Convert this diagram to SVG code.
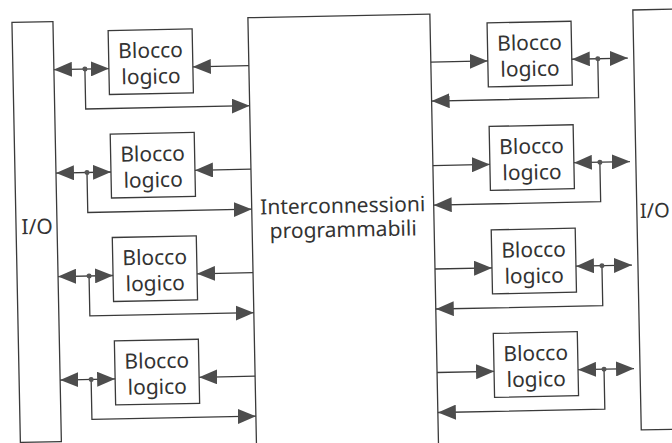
<svg xmlns="http://www.w3.org/2000/svg" width="672" height="443" viewBox="0 0 672 443">
<defs>
<style>
.box{fill:#fff;stroke:#3a3a3a;stroke-width:1.3}
.ln{fill:none;stroke:#3a3a3a;stroke-width:1.3}
.lbl{font-family:"Noto Sans","Open Sans","Liberation Sans",sans-serif;font-size:21px;fill:#333;text-anchor:middle}
.dot{fill:#555}
</style>
<marker id="ah" markerUnits="userSpaceOnUse" viewBox="0 0 18 15" markerWidth="18" markerHeight="15" refX="18" refY="7.5" orient="auto-start-reverse">
<path d="M0,0 L18,7.5 L0,15 z" fill="#4d4d4d"/>
</marker>
</defs>
<rect width="672" height="443" fill="#fff"/>
<g transform="rotate(-1.15 336 221)">
<g id="io-left"><rect class="box" x="16" y="16" width="41" height="420"/><text class="lbl" x="37" y="228">I/O</text></g>
<g id="interconnessioni"><rect class="box" x="252" y="16" width="182" height="450"/><text class="lbl" x="343" y="213">Interconnessioni</text><text class="lbl" x="343" y="237">programmabili</text></g>
<g id="io-right"><rect class="box" x="637" y="16" width="60" height="420"/><text class="lbl" x="640" y="224" style="text-anchor:start;font-size:20px">I/O</text></g>
<g id="bl1"><rect class="box" x="112" y="26" width="84" height="64"/><text class="lbl" x="154" y="54">Blocco</text><text class="lbl" x="154" y="80">logico</text></g>
<g id="bl2"><rect class="box" x="112" y="129.5" width="84" height="64"/><text class="lbl" x="154" y="157.5">Blocco</text><text class="lbl" x="154" y="183.5">logico</text></g>
<g id="bl3"><rect class="box" x="112" y="233" width="84" height="64"/><text class="lbl" x="154" y="261">Blocco</text><text class="lbl" x="154" y="287">logico</text></g>
<g id="bl4"><rect class="box" x="112" y="336.5" width="84" height="64"/><text class="lbl" x="154" y="364.5">Blocco</text><text class="lbl" x="154" y="390.5">logico</text></g>
<g id="br1"><rect class="box" x="491" y="26" width="84" height="64"/><text class="lbl" x="533" y="54">Blocco</text><text class="lbl" x="533" y="80">logico</text></g>
<g id="br2"><rect class="box" x="491" y="129.5" width="84" height="64"/><text class="lbl" x="533" y="157.5">Blocco</text><text class="lbl" x="533" y="183.5">logico</text></g>
<g id="br3"><rect class="box" x="491" y="233" width="84" height="64"/><text class="lbl" x="533" y="261">Blocco</text><text class="lbl" x="533" y="287">logico</text></g>
<g id="br4"><rect class="box" x="491" y="336.5" width="84" height="64"/><text class="lbl" x="533" y="364.5">Blocco</text><text class="lbl" x="533" y="390.5">logico</text></g>
<g id="connectors">
<path class="ln" d="M57,64 H112" marker-start="url(#ah)" marker-end="url(#ah)"/>
<path class="ln" d="M88,64 V104 H252" marker-end="url(#ah)"/>
<path class="ln" d="M252,64 H196" marker-end="url(#ah)"/>
<circle class="dot" cx="88" cy="64" r="2.5"/>
<path class="ln" d="M57,167.5 H112" marker-start="url(#ah)" marker-end="url(#ah)"/>
<path class="ln" d="M88,167.5 V207.5 H252" marker-end="url(#ah)"/>
<path class="ln" d="M252,167.5 H196" marker-end="url(#ah)"/>
<circle class="dot" cx="88" cy="167.5" r="2.5"/>
<path class="ln" d="M57,271 H112" marker-start="url(#ah)" marker-end="url(#ah)"/>
<path class="ln" d="M88,271 V311 H252" marker-end="url(#ah)"/>
<path class="ln" d="M252,271 H196" marker-end="url(#ah)"/>
<circle class="dot" cx="88" cy="271" r="2.5"/>
<path class="ln" d="M57,374.5 H112" marker-start="url(#ah)" marker-end="url(#ah)"/>
<path class="ln" d="M88,374.5 V414.5 H252" marker-end="url(#ah)"/>
<path class="ln" d="M252,374.5 H196" marker-end="url(#ah)"/>
<circle class="dot" cx="88" cy="374.5" r="2.5"/>
<path class="ln" d="M434,64 H491" marker-end="url(#ah)"/>
<path class="ln" d="M575,64 H631" marker-start="url(#ah)" marker-end="url(#ah)"/>
<path class="ln" d="M601,64 V103 H434" marker-end="url(#ah)"/>
<circle class="dot" cx="601" cy="64" r="2.5"/>
<path class="ln" d="M434,167.5 H491" marker-end="url(#ah)"/>
<path class="ln" d="M575,167.5 H631" marker-start="url(#ah)" marker-end="url(#ah)"/>
<path class="ln" d="M601,167.5 V207 H434" marker-end="url(#ah)"/>
<circle class="dot" cx="601" cy="167.5" r="2.5"/>
<path class="ln" d="M434,271 H491" marker-end="url(#ah)"/>
<path class="ln" d="M575,271 H631" marker-start="url(#ah)" marker-end="url(#ah)"/>
<path class="ln" d="M601,271 V311 H434" marker-end="url(#ah)"/>
<circle class="dot" cx="601" cy="271" r="2.5"/>
<path class="ln" d="M434,374.5 H491" marker-end="url(#ah)"/>
<path class="ln" d="M575,374.5 H631" marker-start="url(#ah)" marker-end="url(#ah)"/>
<path class="ln" d="M601,374.5 V414.5 H434" marker-end="url(#ah)"/>
<circle class="dot" cx="601" cy="374.5" r="2.5"/>
</g>
</g>
</svg>
